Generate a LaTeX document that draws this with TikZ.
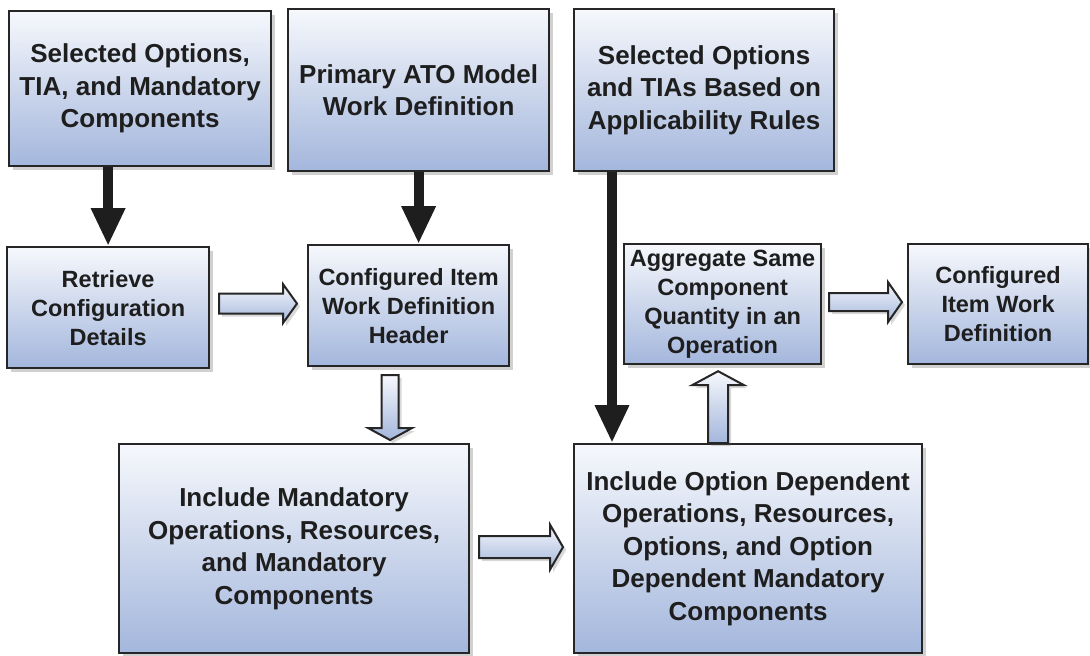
\documentclass[tikz,border=0pt]{standalone}
\usepackage{fontspec}
\setmainfont{Liberation Sans}
\usetikzlibrary{arrows.meta,calc,shadows}
\definecolor{boxtop}{HTML}{F6F8FC}
\definecolor{boxbot}{HTML}{A3B6DC}
\definecolor{edge}{HTML}{262626}
\definecolor{ink}{HTML}{1E1E1E}
\tikzset{
  box/.style={draw=edge, line width=2.2pt, top color=boxtop, bottom color=boxbot,
    anchor=north west, align=center, text=ink, inner sep=0pt,
    drop shadow={shadow xshift=4pt, shadow yshift=-4pt, opacity=0.3, fill=black!60}},
  big/.style={font=\fontsize{26}{32.5}\selectfont\bfseries},
  small/.style={font=\fontsize{23.5}{29}\selectfont\bfseries},
  thickarr/.style={draw=ink, line width=10pt, -{Triangle[width=32pt,length=38pt]}},
  harrow/.style={draw=edge, line width=2pt, top color=boxtop, bottom color=boxbot,
    line join=miter,
    drop shadow={shadow xshift=3pt, shadow yshift=-3pt, opacity=0.25, fill=black!60}}
}
\newcommand\hollowH[5]{\filldraw[harrow] let \p1=(#1), \p2=(#2) in
  (\x1,\y1+#3pt) -- (\x2-#5pt,\y1+#3pt) -- (\x2-#5pt,\y1+#4pt) -- (\x2,\y1)
  -- (\x2-#5pt,\y1-#4pt) -- (\x2-#5pt,\y1-#3pt) -- (\x1,\y1-#3pt) -- cycle;}
\newcommand\hollowD[5]{\filldraw[harrow] let \p1=(#1), \p2=(#2) in
  (\x1-#3pt,\y1) -- (\x1-#3pt,\y2+#5pt) -- (\x1-#4pt,\y2+#5pt) -- (\x1,\y2)
  -- (\x1+#4pt,\y2+#5pt) -- (\x1+#3pt,\y2+#5pt) -- (\x1+#3pt,\y1) -- cycle;}
\newcommand\hollowU[5]{\filldraw[harrow] let \p1=(#1), \p2=(#2) in
  (\x1-#3pt,\y1) -- (\x1-#3pt,\y2-#5pt) -- (\x1-#4pt,\y2-#5pt) -- (\x1,\y2)
  -- (\x1+#4pt,\y2-#5pt) -- (\x1+#3pt,\y2-#5pt) -- (\x1+#3pt,\y1) -- cycle;}
\begin{document}
\begin{tikzpicture}[x=1pt,y=-1pt]
\fill[white] (0,0) rectangle (1090,656);
\useasboundingbox (0,0) rectangle (1090,656);

% boxes
\node[box,big,minimum width=262pt,minimum height=155pt] (b1) at (8,10)
  {Selected Options,\\TIA, and Mandatory\\Components};
\node[box,big,minimum width=261pt,minimum height=162pt] (b2) at (287,8)
  {Primary ATO Model\\Work Definition};
\node[box,big,minimum width=260pt,minimum height=162pt] (b3) at (573,8)
  {Selected Options\\and TIAs Based on\\Applicability Rules};
\node[box,small,minimum width=202pt,minimum height=121pt] (ret) at (6,246)
  {Retrieve\\Configuration\\Details};
\node[box,small,minimum width=201pt,minimum height=121pt] (hdr) at (307,244)
  {Configured Item\\Work Definition\\Header};
\node[box,small,minimum width=197pt,minimum height=120pt] (agg) at (623,243)
  {Aggregate Same\\Component\\Quantity in an\\Operation};
\node[box,small,minimum width=180pt,minimum height=120pt] (cwd) at (907,243)
  {Configured\\Item Work\\Definition};
\node[box,big,minimum width=350pt,minimum height=209pt] (mand) at (118,443)
  {Include Mandatory\\Operations, Resources,\\and Mandatory\\Components};
\node[box,big,minimum width=348pt,minimum height=209pt] (od) at (573,443)
  {Include Option Dependent\\Operations, Resources,\\Options, and Option\\Dependent Mandatory\\Components};

% hollow arrows
\coordinate (h1a) at ($(ret.east |- hdr.west)+(9,-2)$);
\coordinate (h1b) at ($(hdr.west)+(-10,0)$);
\hollowH{h1a}{h1b}{10}{19.5}{14}
\coordinate (h2a) at ($(hdr.south)+(-18.5,8)$);
\coordinate (h2b) at ($(h2a |- mand.north)+(0,-3)$);
\hollowD{h2a}{h2b}{8.5}{22}{12}
\coordinate (h3a) at ($(mand.east)+(9,-1.5)$);
\coordinate (h3b) at ($(od.west)+(-10,0)$);
\hollowH{h3a}{h3b}{11}{22.5}{13}
\coordinate (h4a) at ($(od.north)+(-30,0)$);
\coordinate (h4b) at ($(h4a |- agg.south)+(0,6)$);
\hollowU{h4a}{h4b}{10}{26}{14}
\coordinate (h5a) at ($(agg.east)+(7,-2)$);
\coordinate (h5b) at ($(cwd.west)+(-5,0)$);
\hollowH{h5a}{h5b}{9}{20}{14}

% thick arrows
\draw[thickarr] (ret.north |- b1.south) -- (ret.north);
\draw[thickarr] (b2.south) -- (b2.south |- hdr.north);
\coordinate (t3) at ($(b3.south west)+(39,0)$);
\draw[thickarr] (t3) -- (t3 |- od.north);
\end{tikzpicture}
\end{document}
